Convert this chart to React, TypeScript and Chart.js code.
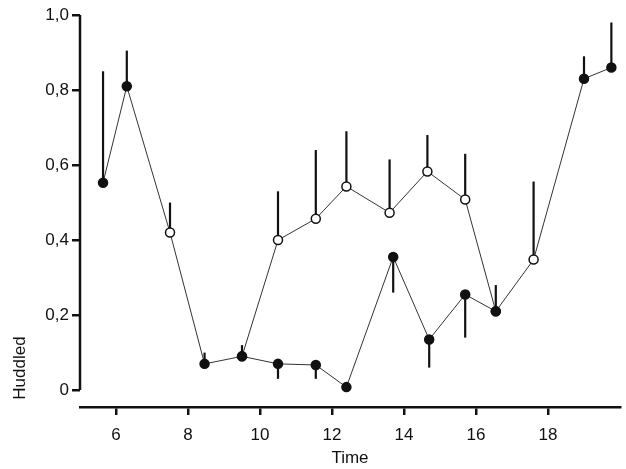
import React, { useEffect, useRef } from "react";
import { Chart, registerables } from "chart.js";
Chart.register(...registerables);

const mainTimes = [5.64, 6.3, 7.5, 8.46, 9.5, 10.5, 11.55, 12.4, 13.7, 14.7, 15.7, 16.55, 17.6, 19.0, 19.76];
const mainValues = [0.553, 0.81, 0.42, 0.07, 0.09, 0.07, 0.067, 0.008, 0.355, 0.135, 0.255, 0.21, 0.348, 0.83, 0.86];
const mainErrEnds = [0.85, 0.905, 0.5, 0.1, 0.12, 0.03, 0.03, null, 0.26, 0.06, 0.14, 0.28, 0.556, 0.89, 0.98];
const mainOpen = [false, false, true, false, false, false, false, false, false, false, false, false, true, false, false];
const openTimes = [9.5, 10.5, 11.55, 12.4, 13.6, 14.65, 15.7, 16.55];
const openValues = [0.09, 0.4, 0.457, 0.543, 0.473, 0.583, 0.508, 0.21];
const openErrEnds = [null, 0.53, 0.64, 0.69, 0.615, 0.68, 0.63, null];
const yTicks = [0, 0.2, 0.4, 0.6, 0.8, 1.0];
const xTicks = [6, 8, 10, 12, 14, 16, 18];
const yTitle = "Huddled";

export default function App() {
  const ref = useRef<HTMLCanvasElement>(null);
  useEffect(() => {
    document.body.style.margin = "0";
    const font = { family: "'Liberation Sans', Arial, sans-serif", size: 17 };
    const errPlugin = {
      id: "errs",
      beforeDatasetsDraw(chart: any) {
        const { ctx, scales } = chart;
        const x = scales.x, y = scales.y;
        ctx.save();
        ctx.strokeStyle = "#111";
        ctx.lineWidth = 2.2;
        const draw = (ts: number[], vs: number[], es: (number | null)[]) => {
          ts.forEach((t, i) => {
            const e = es[i];
            if (e == null) return;
            ctx.beginPath();
            ctx.moveTo(x.getPixelForValue(t), y.getPixelForValue(vs[i]));
            ctx.lineTo(x.getPixelForValue(t), y.getPixelForValue(e));
            ctx.stroke();
          });
        };
        draw(mainTimes, mainValues, mainErrEnds);
        draw(openTimes, openValues, openErrEnds);
        ctx.lineWidth = 2.5;
        ctx.beginPath();
        ctx.moveTo(x.left, y.getPixelForValue(0));
        ctx.lineTo(x.left, y.getPixelForValue(1));
        ctx.stroke();
        ctx.translate(20, 368);
        ctx.rotate(-Math.PI / 2);
        ctx.fillStyle = "#111";
        ctx.font = `17px ${font.family}`;
        ctx.textAlign = "center";
        ctx.textBaseline = "middle";
        ctx.fillText(yTitle, 0, 0);
        ctx.restore();
      },
    };
    const chart = new Chart(ref.current!, {
      type: "scatter",
      data: {
        datasets: [
          {
            data: openTimes.map((t, i) => ({ x: t, y: openValues[i] })),
            showLine: true,
            borderColor: "#333",
            borderWidth: 1,
            pointRadius: 4.5,
            pointBackgroundColor: openTimes.map((_, i) => (i === 0 || i === openTimes.length - 1 ? "#111" : "#fff")),
            pointBorderColor: "#111",
            pointBorderWidth: 1.5,
          },
          {
            data: mainTimes.map((t, i) => ({ x: t, y: mainValues[i] })),
            showLine: true,
            borderColor: "#333",
            borderWidth: 1,
            pointRadius: 4.5,
            pointBackgroundColor: mainOpen.map((o) => (o ? "#fff" : "#111")),
            pointBorderColor: "#111",
            pointBorderWidth: 1.5,
          },
        ],
      },
      options: {
        animation: false,
        responsive: false,
        layout: { padding: { top: 15, right: 0, left: 0, bottom: 0 } },
        plugins: { legend: { display: false }, tooltip: { enabled: false } },
        scales: {
          x: {
            type: "linear",
            min: 5,
            max: 20,
            afterFit: (s: any) => { s.height = 62; },
            afterBuildTicks: (s: any) => { s.ticks = xTicks.map((v) => ({ value: v })); },
            border: { display: true, color: "#111", width: 2.5 },
            grid: { drawOnChartArea: false, drawTicks: true, tickLength: 8, color: "#111", lineWidth: 2.5 },
            ticks: { color: "#111", font, padding: 10 },
            title: { display: true, text: "Time", color: "#111", font, padding: 0 },
          },
          y: {
            type: "linear",
            min: -0.045,
            max: 1,
            afterFit: (s: any) => { s.width = 80; },
            afterBuildTicks: (s: any) => { s.ticks = yTicks.map((v) => ({ value: v })); },
            border: { display: false },
            grid: { drawOnChartArea: false, drawTicks: true, tickLength: 8, color: "#111", lineWidth: 2.5 },
            ticks: {
              color: "#111",
              font,
              padding: 3,
              callback: (v: any) => (v === 0 ? "0" : Number(v).toFixed(1).replace(".", ",")),
            },
          },
        },
      },
      plugins: [errPlugin],
    } as any);
    return () => chart.destroy();
  }, []);
  return <canvas ref={ref} width={626} height={469} />;
}
